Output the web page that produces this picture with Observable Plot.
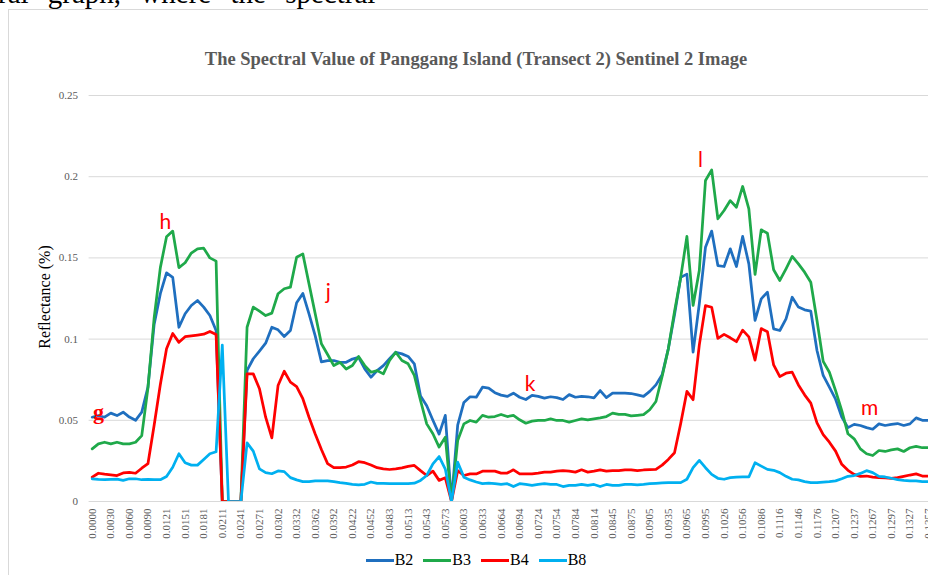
<!DOCTYPE html>
<html><head><meta charset="utf-8">
<script src="https://cdn.jsdelivr.net/npm/d3@7"></script>
<script src="https://cdn.jsdelivr.net/npm/@observablehq/plot@0.6"></script>
<style>
html,body{margin:0;padding:0;background:#fff;}
#wrap{position:relative;width:928px;height:575px;overflow:hidden;background:#fff;}
#doctext{position:absolute;left:0;top:0;width:928px;height:9px;overflow:hidden;}
#doctext span{position:absolute;left:-2px;top:-21px;font:29px "Liberation Serif";line-height:29px;word-spacing:12px;white-space:nowrap;color:#000;}
#frame{position:absolute;left:8px;top:9px;width:1000px;height:700px;border:1px solid #d9d9d9;}
#title{position:absolute;left:0;width:952px;top:49px;text-align:center;font:bold 18.5px "Liberation Serif";color:#595959;white-space:nowrap;}
#ylabel{position:absolute;left:45px;top:297px;transform:translate(-50%,-50%) rotate(-90deg);font:16px "Liberation Serif";color:#000;white-space:nowrap;}
#chart{position:absolute;left:0;top:0;}
#legend{position:absolute;top:551px;left:0;width:952px;height:18px;display:flex;justify-content:center;align-items:center;font:16px "Liberation Serif";color:#000;}
.item{display:flex;align-items:center;margin:0 5px;}
.sw{width:28px;height:3px;margin-right:1px;}
</style>
</head><body>
<div id="wrap">
  <div id="doctext"><span>ral graph, where the spectral</span></div>
  <div id="frame"></div>
  <div id="chart"></div>
  <div id="title">The Spectral Value of Panggang Island (Transect 2) Sentinel 2 Image</div>
  <div id="ylabel">Reflectance (%)</div>
  <div id="legend"></div>
</div>
<script>
const bands = ["B2", "B3", "B4", "B8"];
const colors = ["#1F6FBF", "#1FA94A", "#FF0000", "#00B0F0"];

const xTickLabels = ["0.0000","0.0030","0.0060","0.0090","0.0121","0.0151","0.0181","0.0211","0.0241","0.0271","0.0302","0.0332","0.0362","0.0392","0.0422","0.0452","0.0483","0.0513","0.0543","0.0573","0.0603","0.0633","0.0664","0.0694","0.0724","0.0754","0.0784","0.0814","0.0845","0.0875","0.0905","0.0935","0.0965","0.0995","0.1026","0.1056","0.1086","0.1116","0.1146","0.1176","0.1207","0.1237","0.1267","0.1297","0.1327","0.1357"];
const yTicks = [0, 0.05, 0.1, 0.15, 0.2, 0.25];

const b2 = [0.0519,0.0529,0.0519,0.0544,0.0529,0.055,0.052,0.050,0.055,0.0704,
0.109,0.128,0.1408,0.138,0.1073,0.1156,0.1207,0.1238,0.1197,0.1145,
0.1053,0,0,0,0,0.0807,0.0879,0.0926,0.0975,0.1073,
0.1057,0.1016,0.1053,0.1224,0.1281,0.1155,0.102,0.086,0.0868,0.0868,
0.0857,0.0857,0.0877,0.0887,0.0817,0.0765,0.0806,0.0837,0.0879,0.0919,
0.0909,0.0893,0.0848,0.065,0.059,0.050,0.0415,0.053,0,0.047,
0.061,0.0645,0.0642,0.0704,0.0698,0.067,0.0655,0.0647,0.0667,0.0642,
0.0628,0.0653,0.0647,0.0637,0.0645,0.064,0.0628,0.0658,0.0642,0.0647,
0.0645,0.0638,0.0683,0.064,0.0667,0.0667,0.0667,0.0665,0.0657,0.0647,
0.0678,0.0718,0.078,0.094,0.115,0.138,0.140,0.092,0.1217,0.1566,
0.1665,0.1453,0.1447,0.1556,0.1447,0.1632,0.1463,0.1115,0.1248,0.1289,
0.1063,0.1053,0.1125,0.1258,0.1197,0.118,0.1172,0.093,0.0776,0.0704,
0.063,0.052,0.0455,0.0475,0.0468,0.0455,0.0445,0.0478,0.0468,0.0475,
0.048,0.0468,0.0478,0.0515,0.050,0.050];

const b3 = [0.0324,0.0355,0.0365,0.0355,0.0365,0.0355,0.0355,0.0365,0.0406,0.070,
0.113,0.144,0.163,0.1665,0.144,0.147,0.153,0.1556,0.156,0.150,
0.148,0,0,0,0,0.1073,0.1197,0.1172,0.1145,0.116,
0.1279,0.131,0.132,0.1504,0.1525,0.134,0.1156,0.0971,0.0905,0.0837,
0.0857,0.0816,0.0837,0.0893,0.0837,0.0796,0.0806,0.0786,0.0868,0.0919,
0.0868,0.0848,0.0776,0.0622,0.0478,0.0417,0.0335,0.0396,0,0.0376,
0.0478,0.0499,0.0489,0.053,0.0519,0.0523,0.0536,0.0523,0.053,0.0503,
0.0482,0.0495,0.0499,0.0499,0.0509,0.0499,0.0499,0.0489,0.0499,0.0509,
0.0503,0.0509,0.0515,0.0523,0.0544,0.0536,0.0536,0.0527,0.0531,0.0535,
0.0565,0.0616,0.077,0.094,0.117,0.138,0.1632,0.1207,0.1422,0.1977,
0.2042,0.1741,0.1792,0.1853,0.1812,0.194,0.1802,0.1398,0.1673,0.1652,
0.1427,0.1361,0.1433,0.1509,0.1463,0.1412,0.135,0.1115,0.0863,0.0796,
0.0683,0.056,0.0417,0.0386,0.0324,0.0294,0.0283,0.0314,0.0308,0.0318,
0.0324,0.0308,0.0331,0.0339,0.0331,0.0331];

const b4 = [0.015,0.0174,0.0168,0.0164,0.016,0.0176,0.018,0.0174,0.0205,0.0233,
0.047,0.072,0.094,0.1035,0.098,0.1015,0.102,0.1025,0.103,0.1047,
0.1028,0,0,0,0,0.0786,0.0786,0.0694,0.0519,0.0392,
0.0714,0.0802,0.0735,0.0708,0.0633,0.0519,0.0416,0.032,0.0233,0.0208,
0.0208,0.0212,0.0225,0.0245,0.0239,0.0225,0.0208,0.0201,0.0197,0.0201,
0.0207,0.0216,0.0222,0.019,0.016,0.0187,0.013,0.0146,0,0.019,
0.016,0.017,0.017,0.0187,0.0187,0.0187,0.0175,0.0175,0.0195,0.017,
0.017,0.017,0.0175,0.0181,0.0181,0.0187,0.019,0.0187,0.0181,0.0195,
0.0181,0.0187,0.0195,0.0187,0.019,0.019,0.0195,0.0195,0.019,0.0194,
0.0196,0.0198,0.0224,0.0259,0.030,0.048,0.0678,0.0627,0.0963,0.1206,
0.1196,0.1004,0.1029,0.1008,0.0984,0.1055,0.1014,0.0871,0.1065,0.1045,
0.0841,0.0769,0.079,0.0796,0.0718,0.0657,0.0606,0.0484,0.0412,0.0365,
0.031,0.0229,0.0192,0.0167,0.0155,0.0157,0.015,0.0147,0.0145,0.0143,
0.0147,0.0155,0.0163,0.017,0.0157,0.0157];

const b8 = [0.014,0.0136,0.0134,0.0136,0.0138,0.013,0.014,0.014,0.0134,0.0136,
0.0134,0.0134,0.0154,0.0211,0.0294,0.0239,0.0224,0.0224,0.0259,0.0294,
0.0306,0.0963,0,0,0,0.0361,0.031,0.0201,0.0178,0.0171,
0.0188,0.0184,0.0147,0.0133,0.0122,0.0122,0.0127,0.0127,0.0127,0.0122,
0.0116,0.0112,0.0106,0.0102,0.0106,0.012,0.0112,0.0112,0.011,0.011,
0.011,0.011,0.0113,0.013,0.016,0.0232,0.0277,0.020,0,0.0242,
0.015,0.0133,0.012,0.011,0.0113,0.011,0.0105,0.011,0.0092,0.011,
0.0105,0.0099,0.0105,0.011,0.0105,0.0105,0.0092,0.0099,0.0099,0.0105,
0.0099,0.0105,0.0092,0.0105,0.0099,0.0099,0.0105,0.0105,0.0103,0.0106,
0.011,0.0112,0.0114,0.0116,0.0116,0.0116,0.0137,0.0208,0.0253,0.0208,
0.0167,0.0143,0.0137,0.0147,0.015,0.0151,0.0151,0.0239,0.0218,0.0198,
0.0192,0.0178,0.0155,0.0137,0.0133,0.0122,0.0116,0.0116,0.012,0.0122,
0.0127,0.014,0.0155,0.016,0.0173,0.019,0.0178,0.0155,0.0151,0.0143,
0.0135,0.013,0.0127,0.0127,0.0122,0.0122];

// annotation letters (category index, reflectance)
const annotLabels = ["h", "j", "k", "l", "m"];
const annotX = [11.8, 38.1, 70.7, 98.2, 125.5];
const annotY = [0.172, 0.1287, 0.072, 0.21, 0.0573];
const annotG = {label: "g", x: 1.0, y: 0.0554};

const series = [b2, b3, b4, b8];
const rows = [];
series.forEach((vals, s) => vals.forEach((v, i) => rows.push({i, v, band: bands[s]})));
const xTickPos = xTickLabels.map((_, k) => k * 3);
const annots = annotLabels.map((t, k) => ({t, x: annotX[k], y: annotY[k]}));

const chart = Plot.plot({
  width: 928,
  height: 575,
  marginTop: 95,
  marginBottom: 74,
  marginLeft: 88.6,
  marginRight: 0,
  style: {fontFamily: "Liberation Serif", background: "transparent", overflow: "visible"},
  x: {domain: [-0.5, 135], axis: null},
  y: {domain: [0, 0.25], axis: null},
  color: {domain: bands, range: colors},
  marks: [
    Plot.gridY(yTicks, {stroke: "#d9d9d9", strokeOpacity: 1, strokeWidth: 1}),
    Plot.axisY(yTicks, {tickSize: 0, tickPadding: 11, fontSize: 11, fill: "#595959", label: null,
      tickFormat: d => String(d)}),
    Plot.axisX(xTickPos, {tickSize: 0, tickRotate: -90, tickPadding: 7, fontSize: 11, fill: "#595959", label: null,
      tickFormat: d => xTickLabels[d / 3]}),
    Plot.line(rows, {x: "i", y: "v", z: "band", stroke: "band", strokeWidth: 2.75,
      strokeLinejoin: "round", strokeLinecap: "round", clip: true}),
    Plot.text(annots, {x: "x", y: "y", text: "t", fill: "#ff0000", fontSize: 21, fontFamily: "Lato"}),
    Plot.text([annotG], {x: "x", y: "y", text: "label", fill: "#ff0000", fontSize: 22, fontWeight: "bold", fontFamily: "Liberation Serif"})
  ]
});
document.getElementById("chart").appendChild(chart);

const legend = document.getElementById("legend");
bands.forEach((b, k) => {
  const it = document.createElement("div");
  it.className = "item";
  const sw = document.createElement("div");
  sw.className = "sw";
  sw.style.background = colors[k];
  const tx = document.createElement("span");
  tx.textContent = b;
  it.appendChild(sw); it.appendChild(tx);
  legend.appendChild(it);
});
</script>
</body></html>
